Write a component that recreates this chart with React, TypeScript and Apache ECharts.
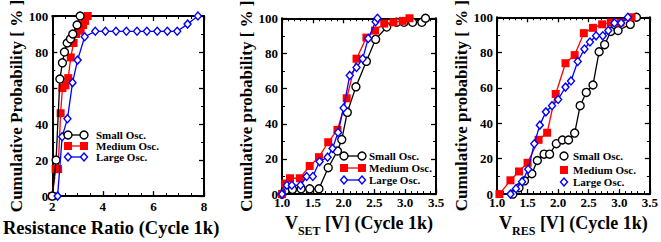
import React, { useEffect, useRef } from "react";
import * as echarts from "echarts";

// ---------- Data ----------
// Panel 1: Resistance Ratio (Cycle 1k)
const ratioSmallX = [2.0, 2.15, 2.3, 2.4, 2.48, 2.59, 2.72, 2.81, 2.98, 3.1];
const ratioSmallY = [0, 20, 65, 74, 80, 85, 87.3, 90, 95, 100];
const ratioMediumX = [2.0, 2.13, 2.23, 2.33, 2.4, 2.52, 2.63, 2.73, 2.84, 2.94, 3.03, 3.12, 3.22, 3.3, 3.4];
const ratioMediumY = [0, 15, 15, 46, 60, 61.5, 65.5, 77, 85, 90, 92, 92, 95, 97.3, 100];
const ratioLargeX = [2.21, 2.39, 2.6, 2.8, 3.0, 3.28, 3.7, 4.1, 4.52, 4.93, 5.35, 5.74, 6.15, 6.55, 6.94, 7.35, 7.76];
const ratioLargeY = [0, 33, 43, 63, 75.5, 88.5, 91.5, 91.5, 91.5, 91.5, 91.5, 91.5, 91.5, 91.5, 91.5, 95.5, 100];

// Panel 2: V_SET [V] (Cycle 1k)
const vsetSmallX = [1.0, 1.06, 1.17, 1.31, 1.45, 1.6, 1.75, 1.9, 1.97, 2.06, 2.2, 2.37, 2.52, 2.7, 2.86, 2.98, 3.12, 3.27, 3.33];
const vsetSmallY = [0, 2.3, 2.7, 3, 3, 3, 15, 24.5, 31, 46.5, 61, 75.5, 88, 95, 97.7, 97.7, 97.7, 97.7, 100];
const vsetMediumX = [1.0, 1.05, 1.13, 1.29, 1.45, 1.6, 1.75, 1.9, 2.05, 2.21, 2.37, 2.51, 2.66, 2.81, 2.96, 3.07];
const vsetMediumY = [0, 6, 9, 9, 16, 21, 29.5, 36.5, 54.5, 77, 89, 93, 97, 97.7, 98.5, 100];
const vsetLargeX = [1.0, 1.08, 1.16, 1.3, 1.4, 1.5, 1.61, 1.74, 1.82, 1.91, 2.0, 2.1, 2.21, 2.31, 2.4, 2.52, 2.55];
const vsetLargeY = [0, 5, 5, 5, 10, 10, 18.5, 21, 26, 35, 49, 67.5, 72, 77, 88.5, 98, 100];

// Panel 3: V_RES [V] (Cycle 1k)
const vresSmallX = [1.26, 1.36, 1.45, 1.57, 1.66, 1.77, 1.86, 1.97, 2.07, 2.17, 2.27, 2.36, 2.46, 2.57, 2.67, 2.76, 2.86, 2.98, 3.18, 3.28];
const vresSmallY = [0, 3.6, 7.5, 11.5, 19, 22.6, 22.6, 28.5, 30.6, 30.6, 34.5, 50, 57.5, 61.7, 80.5, 84.5, 92, 92.5, 96, 100];
const vresMediumX = [1.04, 1.22, 1.36, 1.5, 1.68, 1.82, 1.96, 2.12, 2.27, 2.42, 2.57, 2.72, 2.86, 3.02, 3.2];
const vresMediumY = [0, 7.8, 12.8, 17.7, 30.7, 34.7, 56.6, 74, 78.6, 91, 94, 96, 97, 97, 100];
const vresLargeX = [1.22, 1.31, 1.41, 1.51, 1.61, 1.7, 1.8, 1.9, 2.0, 2.12, 2.21, 2.32, 2.43, 2.52, 2.62, 2.73, 2.82, 2.92, 3.03, 3.14];
const vresLargeY = [0, 3, 7, 14, 28.5, 39, 46.5, 50, 53.5, 60.5, 64, 75, 82, 86, 89.5, 89.5, 92.5, 96.8, 96.8, 100];

const seriesNames = ["Small Osc.", "Medium Osc.", "Large Osc."];
const yTicks = [0, 20, 40, 60, 80, 100];

// ---------- Styling ----------
const FONT = "Liberation Serif";
const BLACK = "#000000";
const RED = "#ff0000";
const BLUE = "#0000ff";

const pairs = (xs: number[], ys: number[]) => xs.map((x, i) => [x, ys[i]]);

type Kind = "s" | "m" | "l";
const colorOf = (k: Kind) => (k === "s" ? BLACK : k === "m" ? RED : BLUE);

function makeSeries(idx: number, k: Kind, xs: number[], ys: number[], z: number) {
  const color = colorOf(k);
  return {
    type: "line",
    name: seriesNames[k === "s" ? 0 : k === "m" ? 1 : 2],
    xAxisIndex: idx,
    yAxisIndex: idx,
    data: pairs(xs, ys),
    symbol: k === "s" ? "circle" : k === "m" ? "rect" : "diamond",
    symbolSize: k === "l" ? [7, 8] : 8,
    showAllSymbol: true,
    clip: false,
    z,
    lineStyle: { color, width: 1.3 },
    itemStyle:
      k === "m"
        ? { color: RED }
        : { color: "#ffffff", borderColor: color, borderWidth: 1.4 },
    emphasis: { disabled: true },
  };
}

const grids = [
  { left: 51, top: 16, width: 153, height: 186 },
  { left: 282, top: 10.5, width: 154, height: 186.5 },
  { left: 497, top: 10.5, width: 156, height: 187.5 },
];

const axisCommon = {
  axisLine: { show: true, onZero: false, lineStyle: { color: BLACK, width: 2 } },
  axisTick: { show: true, inside: true, length: 5, lineStyle: { color: BLACK, width: 1.3 } },
  splitLine: { show: false },
};

function xAxes() {
  const defs = [
    { min: 2, max: 8, interval: 2, minor: 4, fmt: (v: number) => String(v) },
    { min: 1, max: 3.5, interval: 0.5, minor: 5, fmt: (v: number) => v.toFixed(1) },
    { min: 1, max: 3.5, interval: 0.5, minor: 5, fmt: (v: number) => v.toFixed(1) },
  ];
  const names = [
    "Resistance Ratio (Cycle 1k)",
    "{v|V}{s|SET}{v| [V] (Cycle 1k)}",
    "{v|V}{s|RES}{v| [V] (Cycle 1k)}",
  ];
  const gaps = [9, 4, 4];
  const margins = [4, 2, 2];
  const paddings = [[0, 34, 0, 0], [0, 0, 0, 0], [0, 0, 0, 0]];
  const rich = {
    v: { fontSize: 18, fontWeight: "bold", fontFamily: FONT, color: BLACK },
    s: { fontSize: 12, fontWeight: "bold", fontFamily: FONT, color: BLACK, padding: [16, 0, 0, 0] },
  };
  const bottom = defs.map((d, i) => ({
    type: "value",
    gridIndex: i,
    position: "bottom",
    min: d.min,
    max: d.max,
    interval: d.interval,
    ...axisCommon,
    minorTick: { show: true, splitNumber: d.minor, length: 3, lineStyle: { color: BLACK, width: 1 } },
    axisLabel: {
      show: true,
      margin: margins[i],
      formatter: d.fmt,
      fontFamily: FONT,
      fontWeight: "bold",
      fontSize: 13,
      color: BLACK,
      showMinLabel: true,
      showMaxLabel: true,
    },
    name: names[i],
    nameLocation: "middle",
    nameGap: gaps[i],
    nameTextStyle: {
      fontFamily: FONT,
      fontWeight: "bold",
      fontSize: i === 0 ? 18.5 : 18,
      color: BLACK,
      padding: paddings[i],
      rich,
    },
  }));
  const top = defs.map((d, i) => ({
    type: "value",
    gridIndex: i,
    position: "top",
    min: d.min,
    max: d.max,
    interval: d.interval,
    ...axisCommon,
    minorTick: { show: true, splitNumber: d.minor, length: 3, lineStyle: { color: BLACK, width: 1 } },
    axisLabel: { show: false },
  }));
  return [...bottom, ...top];
}

function yAxes() {
  const names = [
    "Cumulative Probability [ % ]",
    "Cumulative probability [ % ]",
    "Cumulative probability [ % ]",
  ];
  const gaps = [26, 26, 19];
  const left = [0, 1, 2].map((i) => ({
    type: "value",
    gridIndex: i,
    position: "left",
    min: yTicks[0],
    max: yTicks[yTicks.length - 1],
    interval: yTicks[1] - yTicks[0],
    ...axisCommon,
    minorTick: { show: true, splitNumber: 2, length: 3, lineStyle: { color: BLACK, width: 1 } },
    axisLabel: {
      show: true,
      margin: 4,
      fontFamily: FONT,
      fontWeight: "bold",
      fontSize: 13,
      color: BLACK,
    },
    name: names[i],
    nameLocation: "middle",
    nameGap: gaps[i],
    nameRotate: 90,
    nameTextStyle: { fontFamily: FONT, fontWeight: "bold", fontSize: 17, color: BLACK },
  }));
  const right = [0, 1, 2].map((i) => ({
    type: "value",
    gridIndex: i,
    position: "right",
    min: yTicks[0],
    max: yTicks[yTicks.length - 1],
    interval: yTicks[1] - yTicks[0],
    ...axisCommon,
    minorTick: { show: true, splitNumber: 2, length: 3, lineStyle: { color: BLACK, width: 1 } },
    axisLabel: { show: false },
  }));
  return [...left, ...right];
}

// ---------- Legend (drawn as graphic) ----------
function marker(k: Kind, cx: number, cy: number) {
  if (k === "s")
    return { type: "circle", z: 102, shape: { cx, cy, r: 4 }, style: { fill: "#fff", stroke: BLACK, lineWidth: 1.4 } };
  if (k === "m")
    return { type: "rect", z: 102, shape: { x: cx - 4, y: cy - 4, width: 8, height: 8 }, style: { fill: RED } };
  return {
    type: "polygon",
    z: 102,
    shape: { points: [[cx, cy - 4], [cx + 3.5, cy], [cx, cy + 4], [cx - 3.5, cy]] },
    style: { fill: "#fff", stroke: BLUE, lineWidth: 1.4 },
  };
}

function legendBlock(x1: number, x2: number | null, textX: number, ys: number[]) {
  const kinds: Kind[] = ["s", "m", "l"];
  const els: any[] = [];
  kinds.forEach((k, i) => {
    const y = ys[i];
    if (x2 !== null) {
      els.push({
        type: "line",
        z: 101,
        shape: { x1, y1: y, x2, y2: y },
        style: { stroke: colorOf(k), lineWidth: 1.3 },
      });
      els.push(marker(k, x1, y));
      els.push(marker(k, x2, y));
    } else {
      els.push(marker(k, x1, y));
    }
    els.push({
      type: "text",
      z: 102,
      x: textX,
      y,
      style: {
        text: seriesNames[i],
        fontFamily: FONT,
        fontWeight: "bold",
        fontSize: 11,
        fill: BLACK,
        align: "left",
        verticalAlign: "middle",
      },
    });
  });
  return els;
}

export default function App() {
  const ref = useRef<HTMLDivElement>(null);
  useEffect(() => {
    if (!ref.current) return;
    const chart = echarts.init(ref.current, undefined, { renderer: "svg" });
    const option: any = {
      animation: false,
      backgroundColor: "#ffffff",
      grid: grids,
      xAxis: xAxes(),
      yAxis: yAxes(),
      series: [
        makeSeries(0, "s", ratioSmallX, ratioSmallY, 3),
        makeSeries(0, "m", ratioMediumX, ratioMediumY, 2),
        makeSeries(0, "l", ratioLargeX, ratioLargeY, 4),
        makeSeries(1, "s", vsetSmallX, vsetSmallY, 2),
        makeSeries(1, "m", vsetMediumX, vsetMediumY, 3),
        makeSeries(1, "l", vsetLargeX, vsetLargeY, 4),
        makeSeries(2, "s", vresSmallX, vresSmallY, 2),
        makeSeries(2, "m", vresMediumX, vresMediumY, 3),
        makeSeries(2, "l", vresLargeX, vresLargeY, 4),
      ],
      graphic: [
        ...legendBlock(68, 84, 96, [135, 146, 157]),
        ...legendBlock(344, 362, 369, [156, 168, 180]),
        ...legendBlock(564, null, 573, [156, 170, 182]),
      ],
    };
    chart.setOption(option);
    return () => chart.dispose();
  }, []);
  return (
    <div
      ref={ref}
      style={{ position: "fixed", left: 0, top: 0, width: 661, height: 242, background: "#fff" }}
    />
  );
}
